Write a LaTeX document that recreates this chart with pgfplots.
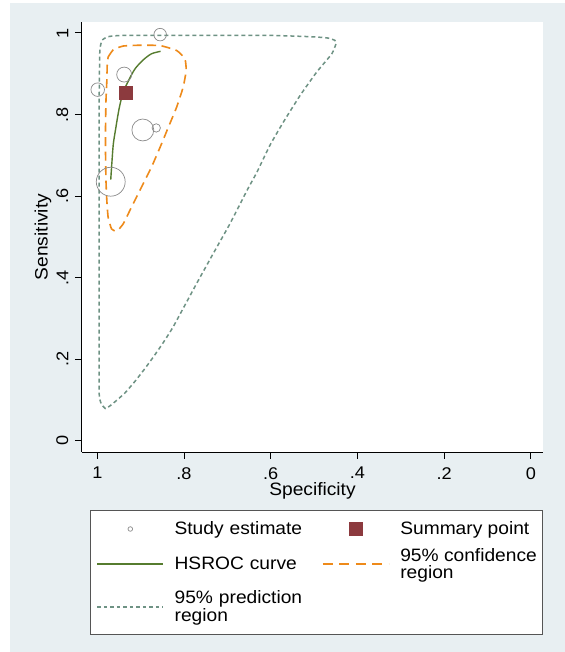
\documentclass[border=0pt]{standalone}
\usepackage{fontspec}
\setmainfont{Liberation Sans}[FakeStretch=1.07]
\usepackage{pgfplots}
\usepackage{pgfplotstable}
\pgfplotsset{compat=1.18}
\definecolor{bgcol}{HTML}{E8EFF2}
\definecolor{circgray}{HTML}{8A8A8A}
\definecolor{sumred}{HTML}{8C3A3E}
\definecolor{hsgreen}{HTML}{567C2F}
\definecolor{confor}{HTML}{EE8A1A}
\definecolor{predgr}{HTML}{6E9284}
\definecolor{legdraw}{HTML}{555555}
\newcommand\tickfont{\fontsize{17}{19}\selectfont}
\newcommand\labfont{\fontsize{18}{20}\selectfont}
\newcommand\legfont{\fontsize{18}{16.6}\selectfont}

\pgfplotstableread{
x y r
0.855 0.996 6.3
0.938 0.898 7.5
0.999 0.861 6.8
0.895 0.762 11
0.864 0.767 4.2
0.969 0.635 14.5
}\studytab

\pgfplotstableread{
x y
0.935 0.854
}\sumtab

\pgfplotstableread{
x y
0.969 0.640
0.966 0.687
0.963 0.728
0.957 0.769
0.949 0.818
0.940 0.855
0.928 0.883
0.913 0.912
0.894 0.934
0.875 0.949
0.854 0.955
}\hsroctab

\pgfplotstableread{
x y
0.975 0.941
0.963 0.959
0.940 0.968
0.901 0.970
0.855 0.969
0.817 0.957
0.798 0.937
0.795 0.908
0.802 0.867
0.817 0.818
0.836 0.769
0.855 0.720
0.875 0.671
0.898 0.622
0.921 0.573
0.940 0.532
0.955 0.514
0.967 0.519
0.975 0.548
0.978 0.589
0.980 0.638
0.981 0.704
0.981 0.769
0.980 0.834
0.978 0.883
0.977 0.924
0.975 0.941
}\conftab

\pgfplotstableread{
x y
0.981 0.078
0.990 0.088
0.995 0.105
0.996 0.140
0.996 0.368
0.996 0.589
0.996 0.785
0.995 0.908
0.994 0.960
0.989 0.982
0.975 0.991
0.940 0.994
0.763 0.994
0.600 0.994
0.510 0.991
0.470 0.988
0.452 0.982
0.449 0.975
0.459 0.949
0.494 0.904
0.532 0.847
0.571 0.781
0.602 0.724
0.632 0.658
0.655 0.613
0.694 0.532
0.733 0.458
0.771 0.385
0.802 0.324
0.826 0.277
0.848 0.240
0.870 0.206
0.892 0.174
0.914 0.144
0.936 0.117
0.957 0.097
0.972 0.084
0.981 0.078
}\predtab

\begin{document}
\begin{tikzpicture}
\useasboundingbox (0bp,0bp) rectangle (565bp,652bp);
\fill[white] (0bp,0bp) rectangle (565bp,652bp);
\fill[bgcol] (10bp,0bp) rectangle (565bp,649bp);
\begin{axis}[
  at={(82bp,200bp)}, anchor=south west,
  scale only axis, width=461bp, height=430bp,
  x dir=reverse,
  xmin=-0.0281, xmax=1.0353,
  ymin=-0.0282, ymax=1.027,
  axis x line*=bottom, axis y line*=left,
  axis line style={-, black, line width=1bp},
  axis background/.style={fill=white},
  tick align=outside,
  major tick length=7bp,
  tick style={black, line width=1bp},
  xtick={0,0.2,0.4,0.6,0.8,1},
  xticklabels={0,.2,.4,.6,.8,1},
  ytick={0,0.2,0.4,0.6,0.8,1},
  yticklabels={0,.2,.4,.6,.8,1},
  tick label style={font=\tickfont, inner sep=0pt},
  xticklabel style={anchor=north},
  yticklabel style={rotate=90, anchor=south},
  xticklabel shift=8bp,
  yticklabel shift=6.4bp,
  every axis x label/.style={at={(axis description cs:0.5,-0.1016)}, anchor=base, font=\labfont, inner sep=0pt},
  every axis y label/.style={at={(axis description cs:-0.0744,0.5)}, rotate=90, anchor=base, font=\labfont, inner sep=0pt},
  xlabel={Specificity}, ylabel={Sensitivity},
  clip=false,
  legend columns=2,
  legend cell align=left,
  legend style={at={(0.0174,-0.13488)}, anchor=north west, draw=legdraw, line width=1bp, fill=white,
    inner xsep=6bp, inner ysep=0bp, font=\legfont, row sep=0bp, column sep=10.5bp,
    nodes={inner sep=0pt}, cells={align=left}, /tikz/column 2/.style={text width=137bp}},
]
\addplot[predgr, line width=1.5bp, dash pattern=on 4bp off 3bp, smooth, tension=0.3, forget plot] table {\predtab};
\addplot[confor, line width=1.6bp, dash pattern=on 9bp off 5.5bp, smooth, tension=0.3, forget plot] table {\conftab};
\addplot[hsgreen, line width=1.4bp, smooth, forget plot] table {\hsroctab};
\addplot[only marks, mark=o, circgray, line width=0.7bp, scatter, scatter src=explicit,
  scatter/use mapped color={draw=circgray},
  visualization depends on={\thisrow{r} \as \prad},
  scatter/@pre marker code/.append style={/tikz/mark size=\prad},
  forget plot] table[x=x, y=y, meta=r] {\studytab};
\addplot[only marks, mark=square*, mark size=6.7bp, mark options={fill=sumred, draw=sumred}, forget plot] table {\sumtab};

\addlegendimage{legend image code/.code={\path (0bp,-14bp) (66bp,18bp); \draw[circgray, line width=0.7bp] (33bp,0bp) circle (2.3bp);}}
\addlegendentry{Study estimate}
\addlegendimage{legend image code/.code={\path (0bp,-14bp) (66bp,18bp); \fill[sumred] (26.5bp,-6.5bp) rectangle (39.5bp,6.5bp);}}
\addlegendentry{Summary point}
\addlegendimage{legend image code/.code={\path (0bp,-21bp) (66bp,20bp); \draw[draw=hsgreen, line width=1.6bp] (0bp,0bp) -- (66bp,0bp);}}
\addlegendentry{HSROC curve}
\addlegendimage{legend image code/.code={\path (0bp,-21bp) (66bp,20bp); \draw[draw=confor, line width=1.7bp, dash pattern=on 10bp off 6.5bp] (0bp,0bp) -- (66bp,0bp);}}
\addlegendentry{95\% confidence\\region}
\addlegendimage{legend image code/.code={\path (0bp,-27bp) (66bp,21bp); \draw[draw=predgr, line width=1.4bp, dash pattern=on 3.5bp off 3bp] (0bp,0bp) -- (66bp,0bp);}}
\addlegendentry[yshift=9bp]{95\% prediction\\region}
\end{axis}
\end{tikzpicture}
\end{document}
